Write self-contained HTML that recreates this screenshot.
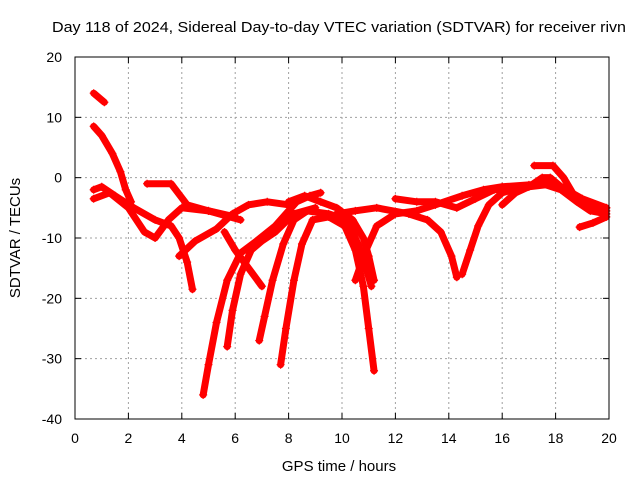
<!DOCTYPE html>
<html><head><meta charset="utf-8"><style>
body{margin:0;background:#fff;}
svg{display:block;font-family:"Liberation Sans",sans-serif;}
</style></head><body>
<svg id="c" width="640" height="480">
<text x="339" y="32" font-size="15" textLength="574" lengthAdjust="spacingAndGlyphs" text-anchor="middle">Day 118 of 2024, Sidereal Day-to-day VTEC variation (SDTVAR) for receiver rivn</text>
<text x="339" y="471" font-size="15" text-anchor="middle">GPS time / hours</text>
<text x="20" y="238" font-size="15" text-anchor="middle" transform="rotate(-90 20 238)">SDTVAR / TECUs</text>
<g id="grid"></g><g id="marks"></g>
<rect x="75" y="57" width="534" height="362" fill="none" stroke="#000" stroke-width="1"/>
<g id="axes"></g>
</svg>
<script>
const xTicks=[0,2,4,6,8,10,12,14,16,18,20];
const yTicks=[20,10,0,-10,-20,-30,-40];
const t1=[[0.7,14],[1.1,12.5]];
const t2=[[0.7,8.5],[1.0,7],[1.4,4],[1.7,1],[1.9,-2],[2.1,-4]];
const t3=[[0.7,-2],[1.0,-1.5],[1.5,-3],[2.2,-5],[3.0,-7],[3.6,-8],[3.9,-10],[4.2,-14],[4.4,-18.5]];
const t4=[[0.7,-3.5],[1.3,-2.5],[2.0,-5],[2.6,-9],[3.0,-10],[3.5,-7],[4.0,-5],[5.0,-5.5],[6.0,-6.5]];
const t5=[[2.7,-1],[3.6,-1],[4.2,-4.5],[5.0,-5.5],[6.2,-7]];
const t6=[[3.9,-13],[4.5,-10.5],[5.3,-8.5],[5.9,-6],[6.5,-4.5],[7.2,-4],[8.0,-4.5]];
const t7=[[4.8,-36],[5.0,-31],[5.3,-24],[5.7,-17],[6.2,-12.5],[6.8,-10.5],[7.5,-8],[8.3,-4],[8.8,-3],[9.2,-2.5]];
const t8=[[5.7,-28],[5.9,-22],[6.2,-16],[6.6,-12],[7.0,-10.5],[7.5,-9],[8.2,-6],[9.0,-5]];
const t9=[[6.9,-27],[7.1,-23],[7.4,-17],[7.8,-11],[8.2,-7],[8.7,-5.5],[9.5,-6],[10.2,-7],[10.6,-11],[10.9,-15],[11.1,-18]];
const t10=[[7.7,-31],[7.9,-25],[8.2,-17],[8.5,-11],[8.9,-7],[9.5,-6.5],[10.1,-8],[10.5,-12],[10.8,-18],[11.0,-25],[11.2,-32]];
const t11=[[5.6,-9],[6.0,-12],[6.5,-15],[7.0,-18]];
const t12=[[8.0,-4],[8.6,-3],[9.2,-4],[9.8,-5],[10.4,-7],[10.8,-10],[11.0,-13],[11.2,-17]];
const t13=[[10.5,-17],[10.9,-12],[11.3,-8],[12,-6],[12.8,-5.5],[13.5,-4.5],[14.5,-3],[15.3,-2],[16,-1.5],[17,-1.2],[18,-1],[19,-3.5],[19.9,-5]];
const t14=[[9.8,-6],[10.5,-5.5],[11.3,-5],[12.5,-6],[13.2,-7],[13.7,-9],[14.1,-13],[14.3,-16.5]];
const t15=[[14.5,-16],[14.8,-12],[15.1,-8],[15.5,-4.5],[16,-2.5],[16.8,-1.5],[17.5,-1],[18.2,-2],[18.8,-4],[19.3,-5.5],[19.9,-6]];
const t16=[[12,-3.5],[12.8,-4],[13.5,-4],[14.3,-5],[15,-3.5],[15.7,-2],[17,-1.5],[18,-1]];
const t17=[[16,-4.5],[16.5,-2.5],[17,-1.5],[17.5,0],[17.8,0],[18.2,-1.5],[18.7,-3.5],[19.3,-5],[19.9,-5.5]];
const t18=[[17.2,2],[17.9,2],[18.3,0],[18.7,-3],[19.2,-5],[19.9,-5]];
const t19=[[18.9,-8.2],[19.4,-7.5],[19.9,-6.5]];
const tracks=[t1,t2,t3,t4,t5,t6,t7,t8,t9,t10,t11,t12,t13,t14,t15,t16,t17,t18,t19];
const NS="http://www.w3.org/2000/svg";
const X=t=>75+t*(534/20);
const Y=v=>57+(20-v)*(362/60);
function mk(tag,at,parent){const e=document.createElementNS(NS,tag);for(const k in at)e.setAttribute(k,at[k]);parent.appendChild(e);return e;}
const grid=document.getElementById('grid'),axes=document.getElementById('axes'),marks=document.getElementById('marks');
xTicks.forEach(t=>{const x=X(t);
 if(t>0&&t<20){const g=mk('line',{x1:x,x2:x,y1:57,y2:419,stroke:'#a0a0a0','stroke-dasharray':'2,3'},grid);
 
 }
 mk('line',{x1:x,x2:x,y1:419,y2:413,stroke:'#000'},axes);
 mk('line',{x1:x,x2:x,y1:57,y2:63,stroke:'#000'},axes);
 const l=mk('text',{x:x,y:443,'font-size':14,'text-anchor':'middle'},axes);l.textContent=t;
 
 });
yTicks.forEach(v=>{const y=Y(v);
 if(v<20&&v>-40){const g=mk('line',{x1:75,x2:609,y1:y,y2:y,stroke:'#a0a0a0','stroke-dasharray':'2,3'},grid);
 
 }
 mk('line',{x1:75,x2:81,y1:y,y2:y,stroke:'#000'},axes);
 mk('line',{x1:603,x2:609,y1:y,y2:y,stroke:'#000'},axes);
 const l=mk('text',{x:62,y:y+5,'font-size':14,'text-anchor':'end'},axes);l.textContent=v;
 
 });
tracks.forEach((tr,i)=>{
 const p=mk('polyline',{points:tr.map(d=>X(d[0])+','+Y(d[1])).join(' '),fill:'none',stroke:'#ff0000','stroke-width':7,'stroke-linejoin':'round','stroke-linecap':'round'},marks);
 
 
 tr.forEach(d=>{const x=X(d[0]),y=Y(d[1]);
  mk('path',{d:`M${x-4},${y}h8M${x},${y-4}v8`,stroke:'#ff0000','stroke-width':1.2},marks);});
});
</script>
</body></html>
